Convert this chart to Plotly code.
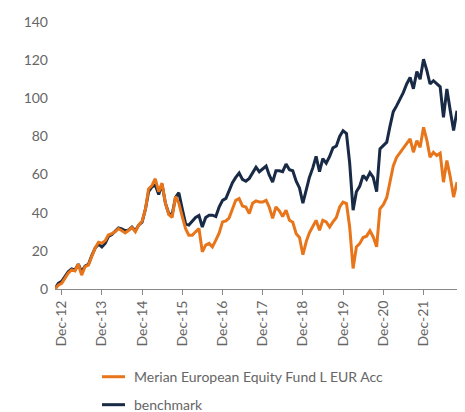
import pandas as pd
import plotly.graph_objects as go

dates = pd.date_range("2012-10-31", periods=121, freq="ME")

fund = [
    0, 2, 3, 5.7, 8.3, 10, 9.5, 13, 7.3, 11.7,
    12.5, 17, 21.5, 24.5, 24, 25.4, 28.3, 29, 30, 31.7,
    30.5, 29.4, 30.8, 32.2, 30, 33.5, 35.5, 42, 52.5, 54.3,
    57.8, 51, 55.5, 45, 39, 37.5, 48.5, 45, 38, 31.5,
    28.2, 28.2, 30, 31.7, 19.5, 23, 23.9, 22.1, 25.6, 29.3,
    35.2, 35.7, 37.2, 41.8, 46.5, 47.4, 43.5, 43, 39.5, 45,
    46.2, 45.6, 45.6, 46.5, 43, 37, 43, 41, 38, 41.3,
    36, 35, 29, 27, 18, 25, 29.5, 32.8, 36, 30.8,
    36, 35.2, 32.5, 35.2, 37.5, 43, 45.6, 44.8, 32.5, 10.8,
    22, 23.9, 27, 27.7, 30.5, 27.3, 22.1, 42, 44.2, 48,
    55, 64.5, 69, 71.5, 73.6, 76.5, 78.7, 71.7, 77.8, 74.3,
    84.8, 77.8, 69.1, 71.7, 70, 71.2, 56, 67.4, 58.7, 48.2,
    56,
]

benchmark = [
    0, 3, 4, 6.5, 9, 10.5, 10, 13, 9, 12,
    13, 17.5, 21.5, 23.5, 22, 24, 27.5, 28.5, 30, 32,
    31.5, 30.5, 31, 32.5, 30.5, 33.5, 35, 42, 51, 53.5,
    54.5, 49.5, 55, 45, 39.5, 39, 48, 50.5, 42, 34,
    33.5, 35.5, 37.5, 38.5, 32.5, 37.5, 38.7, 38.7, 38, 43,
    46.5, 47.5, 51, 55.7, 58.5, 60.8, 57.5, 56.5, 58, 61,
    63.9, 61.5, 63, 64.5, 59.8, 56, 62, 62, 61.5, 65.5,
    62.5, 62, 56.5, 53, 45, 52, 58.5, 63.5, 69.5, 61.5,
    68.3, 66, 69.5, 74, 75, 80, 83, 81.5, 66, 41.3,
    51, 54, 59.5, 57.5, 61, 58.5, 51, 73.5, 75.5, 77,
    85, 93, 96, 99.5, 103, 107.5, 110.9, 105, 114, 110,
    120.5, 114.4, 107.5, 109.2, 107.8, 106, 90, 104.9, 93.5, 83.1,
    93.5,
]

tick_dates = pd.date_range("2012-12-31", periods=10, freq="12ME")
tick_labels = [d.strftime("%b-%y") for d in tick_dates]
y_ticks = [0, 20, 40, 60, 80, 100, 120, 140]

series_names = ["Merian European Equity Fund L EUR Acc", "benchmark"]

ORANGE = "#E8751A"
NAVY = "#182A45"
GREY = "#666666"
FONT = "Lato"

fig = go.Figure()
fig.add_trace(go.Scatter(
    x=dates, y=benchmark, mode="lines", name=series_names[1],
    line=dict(color=NAVY, width=3), showlegend=False,
))
fig.add_trace(go.Scatter(
    x=dates, y=fund, mode="lines", name=series_names[0],
    line=dict(color=ORANGE, width=3), showlegend=False,
))

# custom legend (rows below the plot)
legend_rows = [(series_names[0], ORANGE, -0.3285), (series_names[1], NAVY, -0.4333)]
for name, col, yy in legend_rows:
    fig.add_shape(type="line", xref="paper", yref="paper",
                  x0=0.1169, x1=0.1741, y0=yy, y1=yy,
                  line=dict(color=col, width=3))
    fig.add_annotation(xref="paper", yref="paper", x=0.1915, y=yy,
                       xanchor="left", yanchor="middle", showarrow=False,
                       text=name, font=dict(family=FONT, size=14, color=GREY))

fig.update_layout(
    width=465, height=412,
    margin=dict(l=55, r=8, t=22, b=123),
    paper_bgcolor="white", plot_bgcolor="white",
    font=dict(family=FONT, size=14, color=GREY),
    showlegend=False,
    xaxis=dict(
        range=[dates[0], dates[-1]], automargin=False,
        tickvals=tick_dates, ticktext=tick_labels,
        tickangle=-90, ticks="outside", ticklen=5, tickcolor="#888888",
        showline=True, linecolor="#888888", linewidth=1,
        showgrid=False, zeroline=False,
        tickfont=dict(family=FONT, size=14, color=GREY),
    ),
    yaxis=dict(
        range=[0, 140], tickvals=y_ticks, automargin=False,
        showline=False, showgrid=False, zeroline=False,
        ticks="", ticklabelstandoff=6,
        tickfont=dict(family=FONT, size=14, color=GREY),
    ),
)

fig.write_html("out.html", config={"displayModeBar": False},
               post_script="document.body.style.margin='0';")
